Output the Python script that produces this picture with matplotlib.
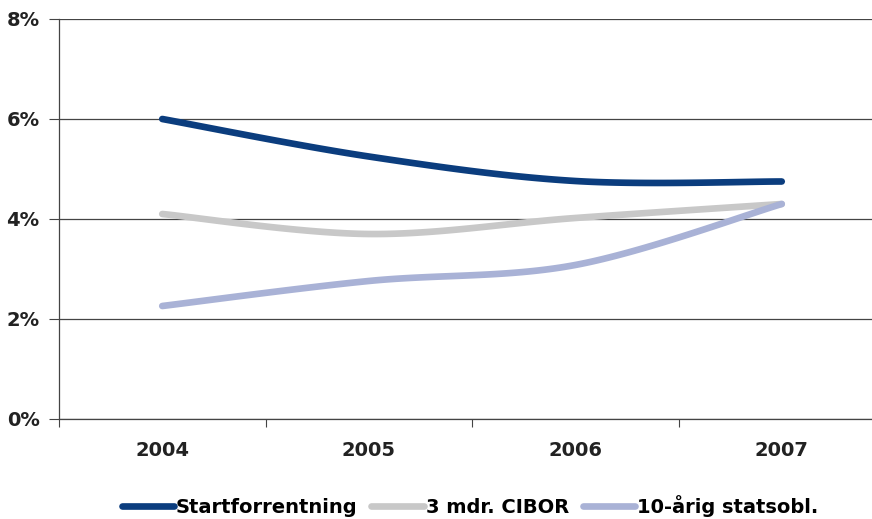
import numpy as np
import matplotlib
matplotlib.use("Agg")
import matplotlib.pyplot as plt
from matplotlib.lines import Line2D

years = ["2004", "2005", "2006", "2007"]
startforrentning = [6.00, 5.25, 4.76, 4.75]
cibor_3m = [4.10, 3.70, 4.02, 4.30]
statsobl_10y = [2.26, 2.76, 3.08, 4.30]

series_names = ["Startforrentning", "3 mdr. CIBOR", "10-årig statsobl."]
colors = ["#0b3d7e", "#c8c8c8", "#a9b2d6"]


def smooth(xs, ys, n=40):
    """Cubic Bezier smoothing through the points (spreadsheet-style)."""
    pts = np.column_stack([xs, ys]).astype(float)
    out = []
    for i in range(len(pts) - 1):
        p0 = pts[i - 1] if i > 0 else pts[i]
        p1 = pts[i]
        p2 = pts[i + 1]
        p3 = pts[i + 2] if i + 2 < len(pts) else pts[i + 1]
        c1 = p1 + (p2 - p0) / 6.0
        c2 = p2 - (p3 - p1) / 6.0
        t = np.linspace(0, 1, n)[:, None]
        seg = ((1 - t) ** 3) * p1 + 3 * ((1 - t) ** 2) * t * c1 + 3 * (1 - t) * t ** 2 * c2 + t ** 3 * p2
        out.append(seg if i == 0 else seg[1:])
    seg = np.vstack(out)
    return seg[:, 0], seg[:, 1]


plt.rcParams["font.family"] = ["DejaVu Sans"]
plt.rcParams["font.weight"] = "bold"

fig = plt.figure(figsize=(8.72, 5.19), dpi=100)
ax = fig.add_axes([59 / 872, 100 / 519, 826 / 872, 400 / 519])

x = np.arange(len(years))
for vals, col in zip([startforrentning, cibor_3m, statsobl_10y], colors):
    sx, sy = smooth(x, vals)
    ax.plot(sx, sy, color=col, lw=4.8, solid_capstyle="round", solid_joinstyle="round", zorder=3)

ax.set_xlim(-0.5, 3.5)
ax.set_ylim(0, 8)
ax.set_yticks([0, 2, 4, 6, 8])
ax.set_yticklabels([f"{v}%" for v in [0, 2, 4, 6, 8]], fontsize=14, fontweight="bold", color="#222222")
ax.yaxis.grid(True, color="#444444", lw=0.9)
ax.set_axisbelow(True)

ax.set_xticks([-0.5, 0.5, 1.5, 2.5, 3.5])
ax.set_xticklabels([])
ax.set_xticks(x, minor=True)
ax.set_xticklabels(years, minor=True, fontsize=14, fontweight="bold", color="#222222")
ax.tick_params(axis="x", which="minor", length=0, pad=16)
ax.tick_params(axis="x", which="major", length=6, color="#444444", direction="out")
ax.tick_params(axis="y", length=7, color="#444444", pad=7)

for s in ["top", "right"]:
    ax.spines[s].set_visible(False)
for s in ["left", "bottom"]:
    ax.spines[s].set_color("#444444")
    ax.spines[s].set_linewidth(0.9)

handles = [Line2D([], [], color=c, lw=4.8, solid_capstyle="round") for c in colors]
fig.legend(handles, series_names, loc="center", bbox_to_anchor=(470 / 872, 1 - 506 / 519),
           ncol=3, frameon=False, handlelength=2.7, handletextpad=0.1,
           columnspacing=0.7, prop={"weight": "bold", "size": 14})

fig.savefig("out.png", dpi=100)
